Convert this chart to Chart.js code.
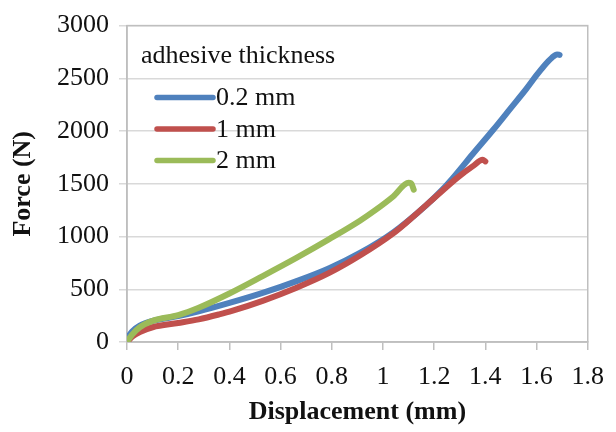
<!DOCTYPE html>
<html>
<head>
<meta charset="utf-8">
<script src="https://cdn.jsdelivr.net/npm/chart.js@4.4.0/dist/chart.umd.min.js"></script>
<style>
  html, body { margin: 0; padding: 0; background: #fff; }
  #wrap { width: 616px; height: 432px; }
</style>
</head>
<body>
<div id="wrap"><canvas id="forceChart" width="616" height="432"></canvas></div>
<script>
// Series labels and colours
const seriesLabels = ["0.2 mm", "1 mm", "2 mm"];
const seriesColors = ["#4F81BD", "#C0504D", "#9BBB59"];
const legendTitle = "adhesive thickness";

// Displacement (mm) / Force (N)
const disp02 = [0, 0.02, 0.05, 0.1, 0.2, 0.28, 0.4, 0.53, 0.66, 0.79, 0.91, 1.04, 1.17, 1.23, 1.28, 1.35, 1.43, 1.5, 1.56, 1.6, 1.63, 1.66, 1.68, 1.69];
const force02 = [30, 100, 155, 200, 245, 290, 370, 465, 575, 700, 845, 1040, 1300, 1440, 1575, 1780, 2010, 2220, 2400, 2530, 2620, 2695, 2727, 2722];

const disp1 = [0, 0.02, 0.05, 0.1, 0.2, 0.28, 0.36, 0.41, 0.53, 0.66, 0.79, 0.91, 1.04, 1.1, 1.23, 1.29, 1.35, 1.39, 1.4];
const force1 = [0, 50, 95, 140, 180, 215, 262, 295, 390, 512, 655, 820, 1030, 1150, 1430, 1556, 1665, 1727, 1712];

const disp2 = [0, 0.02, 0.05, 0.1, 0.2, 0.28, 0.4, 0.53, 0.66, 0.79, 0.91, 0.97, 1.04, 1.1, 1.11, 1.12];
const force2 = [0, 70, 140, 200, 255, 325, 460, 625, 795, 975, 1150, 1250, 1380, 1510, 1505, 1445];

// Axis ticks
const xMin = 0, xMax = 1.8, xStep = 0.2;
const yMin = 0, yMax = 3000, yStep = 500;

const toPoints = (xs, ys) => xs.map((x, i) => ({ x, y: ys[i] }));

const FONT = "'Liberation Serif', 'Times New Roman', serif";

// Draws the box around the plot area (top and right sides)
const plotBorder = {
  id: "plotBorder",
  beforeDatasetsDraw(chart) {
    const { ctx, chartArea: a } = chart;
    ctx.save();
    ctx.strokeStyle = "#bfbfbf";
    ctx.lineWidth = 1.5;
    ctx.strokeRect(a.left, a.top, a.right - a.left, a.bottom - a.top);
    ctx.restore();
  }
};

// Legend drawn inside the plot, with its title above the entries
const insideLegend = {
  id: "insideLegend",
  afterDraw(chart) {
    const { ctx, chartArea: a } = chart;
    ctx.save();
    ctx.fillStyle = "#111";
    ctx.textBaseline = "middle";
    ctx.font = "26px " + FONT;
    ctx.fillText(legendTitle, a.left + 14, a.top + 31);
    chart.data.datasets.forEach((ds, i) => {
      const y = a.top + 72 + i * 31.5;
      ctx.strokeStyle = ds.borderColor;
      ctx.lineWidth = 5.5;
      ctx.lineCap = "round";
      ctx.beginPath();
      ctx.moveTo(a.left + 30, y);
      ctx.lineTo(a.left + 86, y);
      ctx.stroke();
      ctx.fillStyle = "#111";
      ctx.fillText(ds.label, a.left + 89, y + 1);
    });
    ctx.restore();
  }
};

function buildDataset(label, color, points, order) {
  return {
    label,
    data: points,
    showLine: true,
    borderColor: color,
    backgroundColor: color,
    borderWidth: 6,
    pointRadius: 0,
    borderCapStyle: "round",
    borderJoinStyle: "round",
    cubicInterpolationMode: "monotone",
    order
  };
}

const ctx = document.getElementById("forceChart").getContext("2d");
new Chart(ctx, {
  type: "scatter",
  data: {
    datasets: [
      buildDataset(seriesLabels[0], seriesColors[0], toPoints(disp02, force02), 3),
      buildDataset(seriesLabels[1], seriesColors[1], toPoints(disp1, force1), 2),
      buildDataset(seriesLabels[2], seriesColors[2], toPoints(disp2, force2), 1)
    ]
  },
  options: {
    responsive: false,
    animation: false,
    layout: { padding: { top: 20, right: 19, left: 0, bottom: 0 } },
    plugins: {
      legend: { display: false },
      tooltip: { enabled: false }
    },
    scales: {
      x: {
        type: "linear",
        min: xMin,
        max: xMax,
        afterFit: (s) => { s.height = 90; },
        afterBuildTicks: (s) => {
          const ticks = [];
          for (let v = xMin; v <= xMax + 1e-9; v += xStep) ticks.push({ value: +v.toFixed(1) });
          s.ticks = ticks;
        },
        ticks: {
          padding: 12,
          color: "#111",
          font: { family: FONT, size: 26 },
          maxRotation: 0,
          autoSkip: false,
          callback: (v) => String(+v.toFixed(1))
        },
        grid: { drawOnChartArea: false, drawTicks: true, tickLength: 8, color: "#bfbfbf", lineWidth: 1.5 },
        border: { display: true, color: "#bfbfbf", width: 1.5 },
        title: {
          display: true,
          text: "Displacement (mm)",
          color: "#111",
          font: { family: FONT, size: 26, weight: "bold" },
          padding: { top: 0 }
        }
      },
      y: {
        min: yMin,
        max: yMax,
        afterFit: (s) => { s.width = 127; },
        ticks: {
          stepSize: yStep,
          padding: 10,
          color: "#111",
          font: { family: FONT, size: 26 },
          callback: (v) => String(v)
        },
        grid: { color: "#d9d9d9", lineWidth: 1.5, tickLength: 8 },
        border: { display: true, color: "#bfbfbf", width: 1.5 },
        title: {
          display: true,
          text: "Force (N)",
          color: "#111",
          font: { family: FONT, size: 26, weight: "bold" },
          padding: { top: 8, bottom: 0 }
        }
      }
    }
  },
  plugins: [plotBorder, insideLegend]
});
</script>
</body>
</html>
